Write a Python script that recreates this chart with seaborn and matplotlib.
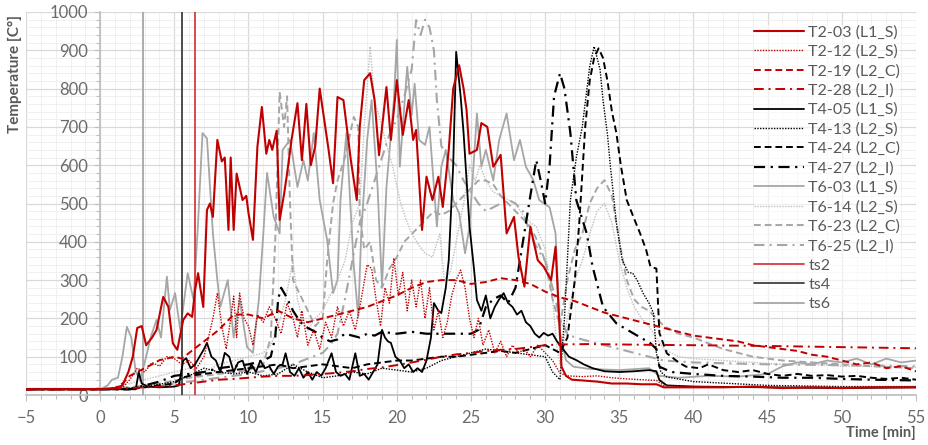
import matplotlib
matplotlib.use("Agg")
import matplotlib.pyplot as plt
from matplotlib.ticker import MultipleLocator
import seaborn as sns

# ---------------- data (time [min], temperature [C]) ----------------
T2_03 = [(-5,15),(0,15),(1.0,18),(1.5,25),(1.9,60),(2.2,100),(2.5,175),(2.8,180),(3.1,130),(3.5,150),(3.8,170),
         (4.25,256),(4.6,230),(4.9,135),(5.2,118),(5.6,196),(5.9,213),(6.2,204),(6.4,274),(6.6,318),(6.95,230),
         (7.2,483),(7.4,500),(7.6,465),(7.9,666),(8.2,610),(8.4,620),(8.65,431),(8.8,620),(9.0,431),(9.2,578),
         (9.6,509),(9.85,520),(10.0,475),(10.3,405),(10.6,648),(10.9,752),(11.2,630),(11.4,666),(11.6,640),
         (11.9,690),(12.1,457),(12.4,525),(12.6,578),(12.9,666),(13.3,762),(13.6,613),(13.9,760),(14.2,600),
         (14.5,650),(14.8,800),(15.1,720),(15.4,640),(15.7,553),(16.0,778),(16.4,770),(16.9,613),(17.3,509),
         (17.5,700),(17.8,822),(18.2,840),(18.5,770),(18.8,626),(19.3,804),(19.6,666),(20.0,822),(20.4,679),
         (20.8,770),(21.1,666),(21.3,692),(21.7,431),(22.0,570),(22.4,509),(22.8,570),(23.1,491),(23.5,640),
         (23.8,800),(24.2,861),(24.5,800),(24.7,744),(24.9,630),(25.4,640),(25.7,710),(26.1,700),(26.5,596),
         (27.0,627),(27.4,422),(27.9,465),(28.2,361),(28.6,283),(29.0,439),(29.5,352),(29.9,335),(30.4,300),
         (30.7,387),(31.1,74),(31.4,50),(31.8,40),(32.5,38),(33.5,35),(34.5,30),(35.5,30),(36.5,28),(37.5,28),
         (38.0,20),(40,20),(42,20),(44,22),(46,18),(48,20),(50,18),(52,20),(55,20)]

T2_12 = [(-5,15),(0,15),(1.5,20),(2.0,40),(2.5,70),(3.0,60),(3.5,85),(4.0,75),(4.5,100),(5.0,95),(5.5,80),
         (6.0,90),(6.5,70),(7.0,100),(7.3,150),(7.6,200),(7.9,266),(8.2,180),(8.5,120),(8.8,200),(9.0,258),
         (9.2,150),(9.4,266),(9.7,200),(10.0,180),(10.3,130),(10.6,210),(11.0,190),(11.4,230),(11.8,200),
         (12.2,160),(12.6,240),(13.0,200),(13.3,150),(13.6,220),(14.0,130),(14.4,170),(14.8,120),(15.2,190),
         (15.6,150),(16.0,230),(16.4,180),(16.8,220),(17.2,170),(17.6,250),(18.0,340),(18.3,330),(18.6,250),
         (18.9,180),(19.2,280),(19.5,240),(19.8,357),(20.1,260),(20.4,320),(20.7,220),(21.0,300),(21.3,230),
         (21.6,300),(21.9,200),(22.2,280),(22.5,170),(22.8,220),(23.1,150),(23.4,190),(23.7,260),(24.0,300),
         (24.3,326),(24.6,280),(24.9,200),(25.2,150),(25.5,200),(25.8,130),(26.2,170),(26.6,110),(27.0,140),
         (27.4,100),(27.8,130),(28.2,110),(28.6,120),(29.0,100),(29.5,130),(30.0,110),(30.5,90),(30.8,70),
         (31.0,57),(31.5,50),(32.5,48),(33.5,50),(34.5,45),(35.5,42),(36.5,40),(37.5,38),(38.0,25),(40,22),
         (45,20),(50,20),(55,22)]

T2_19 = [(-5,15),(0,15),(1,18),(1.5,30),(2,50),(2.5,60),(3,70),(3.5,80),(4,91),(4.5,95),(5,100),(5.5,95),
         (6,110),(7,140),(8,170),(9,210),(10,210),(11,200),(12,220),(13,200),(14,190),(15,200),(16,210),
         (17,220),(18,230),(19,245),(20,260),(21,280),(22,295),(23,300),(24,300),(25,290),(26,295),(27,305),
         (28,300),(29,290),(30,270),(31,255),(32,245),(33,230),(34,215),(35,205),(36,195),(37,185),(38,175),
         (39,165),(40,155),(41,150),(42,145),(43,140),(44,130),(45,125),(46,120),(47,115),(48,105),(49,100),
         (50,90),(51,80),(52,85),(53,70),(54,75),(55,62)]

T2_28 = [(-5,15),(0,15),(2,18),(4,22),(5,25),(6,30),(7,35),(8,40),(9,42),(10,45),(11,48),(12,50),(13,50),
         (14,52),(15,55),(16,58),(17,62),(18,68),(19,72),(20,78),(21,85),(22,92),(23,100),(24,106),(25,110),
         (26,115),(27,118),(28,120),(29,125),(30,130),(31,132),(33,133),(35,132),(37,131),(40,130),(45,128),
         (50,125),(55,122)]

T4_05 = [(-5,15),(0,15),(2.4,15),(2.6,60),(2.8,30),(3.2,22),(4,20),(5,22),(5.3,25),(5.6,90),(5.8,96),
         (6.1,70),(6.4,80),(6.7,100),(7.0,120),(7.2,136),(7.5,100),(7.8,90),(8.1,60),(8.4,110),(8.7,100),
         (9.0,60),(9.3,85),(9.6,90),(9.9,55),(10.2,80),(10.5,60),(10.8,90),(11.1,70),(11.4,75),(11.7,55),
         (12.0,75),(12.3,80),(12.5,109),(12.8,60),(13.1,50),(13.4,70),(13.7,45),(14.0,60),(14.3,40),(14.6,60),
         (14.9,50),(15.2,70),(15.6,109),(15.9,60),(16.2,50),(16.5,55),(16.8,40),(17.2,109),(17.5,50),(17.8,55),
         (18.1,40),(18.4,60),(18.7,80),(19.0,170),(19.2,150),(19.4,140),(19.6,136),(19.9,100),(20.2,90),
         (20.5,70),(20.8,80),(21.1,60),(21.4,70),(21.7,60),(22.0,90),(22.3,150),(22.5,240),(22.8,220),
         (23.0,214),(23.3,280),(23.5,352),(23.8,600),(24.0,896),(24.3,780),(24.5,684),(24.9,440),(25.2,330),
         (25.4,248),(25.7,220),(26.0,260),(26.3,200),(26.6,230),(26.9,250),(27.2,266),(27.5,240),(27.8,230),
         (28.1,210),(28.4,220),(28.7,190),(29.0,180),(29.3,160),(29.6,150),(29.9,162),(30.2,155),(30.5,160),
         (30.8,140),(31.2,120),(31.6,100),(32.1,91),(32.6,80),(33.2,70),(34,62),(35,60),(36,62),(37,65),
         (37.5,62),(37.7,39),(38.2,25),(40,22),(45,20),(50,18),(55,20)]

T4_13 = [(-5,15),(0,15),(2,18),(3,22),(4,28),(5,35),(6,50),(7,70),(8,60),(9,55),(10,60),(11,50),(12,55),
         (13,80),(14,60),(15,45),(16,50),(17,60),(18,55),(19,70),(20,65),(21,60),(22,70),(23,90),(24,100),
         (25,110),(26,120),(27,115),(28,110),(29,105),(30,100),(30.5,60),(31.0,40),(31.3,200),(31.7,509),
         (32.1,620),(32.5,700),(33.0,857),(33.3,910),(33.7,850),(33.9,770),(34.2,680),(34.4,596),(34.8,450),
         (35.2,352),(35.6,320),(35.9,318),(36.2,300),(36.6,266),(37.0,240),(37.3,214),(37.5,109),(37.8,60),
         (38.2,47),(40,35),(45,25),(50,22),(55,22)]

T4_24 = [(-5,15),(0,15),(2,15),(3,20),(4,25),(5,30),(5.5,45),(6,50),(7,55),(8,60),(9,65),(10,70),(11,75),
         (12,80),(13,70),(14,75),(15,80),(16,75),(17,70),(18,80),(19,85),(20,90),(21,90),(22,95),(23,100),
         (24,100),(25,105),(26,110),(27,115),(28,110),(29,120),(30,130),(31,110),(31.5,150),(32.0,300),
         (32.3,450),(32.7,700),(33.0,820),(33.3,880),(33.6,905),(33.9,880),(34.2,820),(34.5,740),(34.8,684),
         (35.1,600),(35.5,509),(36.0,460),(36.4,422),(36.8,380),(37.1,335),(37.5,330),(37.7,162),(38.2,109),
         (39.0,85),(39.5,74),(40.4,70),(41,80),(42,65),(43,60),(44,65),(45,55),(46,50),(47,55),(48,50),
         (49,52),(50,48),(51,50),(52,45),(53,42),(54,45),(55,40)]

T4_27 = [(-5,15),(0,15),(2,15),(3,25),(4,35),(5,50),(6,55),(7,60),(8,70),(9,75),(10,80),(11,90),(11.5,100),
         (11.8,150),(12.0,250),(12.2,280),(12.5,260),(13.0,220),(13.5,190),(14.0,175),(14.5,165),(15.0,150),
         (15.5,140),(16.0,145),(16.5,160),(17.0,155),(17.5,150),(18.0,160),(18.5,155),(19.0,165),(20,160),
         (21,165),(22,160),(23,160),(24,160),(25,160),(25.5,170),(26.0,230),(26.5,250),(27.0,260),(27.5,240),
         (28.0,280),(28.5,400),(29.0,520),(29.4,613),(29.7,560),(30.0,500),(30.3,600),(30.6,780),(31.0,840),
         (31.3,800),(31.7,684),(32.1,509),(32.8,422),(33.2,335),(33.9,230),(34.8,187),(35.9,162),(37.1,135),
         (37.5,120),(37.7,74),(38.5,60),(40,55),(42,50),(44,48),(46,45),(48,45),(50,42),(52,40),(55,38)]

T6_03 = [(-5,15),(0,15),(0.5,25),(0.8,40),(1.2,45),(1.5,100),(1.8,178),(2.1,150),(2.4,60),(2.7,40),(3.1,100),
         (3.4,150),(3.8,196),(4.1,150),(4.5,309),(4.7,222),(5.05,266),(5.4,170),(5.9,318),(6.3,248),(6.6,450),
         (6.9,684),(7.2,670),(7.6,422),(7.9,300),(8.1,230),(8.6,300),(9.0,150),(9.4,250),(9.9,125),(10.3,110),
         (10.7,250),(11.0,422),(11.25,580),(11.7,465),(12.1,422),(12.3,640),(12.8,666),(13.3,543),(13.7,613),
         (14.0,560),(14.4,684),(14.8,509),(15.3,405),(15.7,266),(16.0,300),(16.2,509),(16.6,684),(17.1,335),
         (17.4,204),(17.6,422),(18.0,666),(18.3,770),(18.7,543),(19.0,283),(19.3,543),(19.8,770),(20.0,927),
         (20.2,596),(20.7,857),(21.0,731),(21.2,813),(21.5,666),(21.9,653),(22.2,700),(22.7,440),(23.0,596),
         (23.3,640),(23.8,509),(24.2,475),(24.6,370),(24.9,440),(25.4,735),(25.7,596),(26.0,640),(26.5,560),
         (26.9,666),(27.4,735),(27.9,613),(28.3,666),(28.7,596),(29.2,561),(29.6,509),(30.3,490),(30.7,422),
         (30.8,335),(31.0,162),(31.4,91),(31.9,74),(33,68),(35,65),(37,70),(37.7,50),(39,45),(41,50),(43,48),
         (45,55),(46,75),(47,85),(48,80),(49,90),(50,85),(51,95),(52,80),(53,95),(54,85),(55,90)]

T6_14 = [(-5,15),(0,15),(1,20),(2,30),(3,40),(4,50),(5,60),(6,70),(7,60),(8,80),(9,90),(10,100),(11,110),
         (11.5,130),(12.0,180),(12.5,250),(13.0,352),(13.3,250),(13.6,200),(14.0,170),(14.5,200),(15,220),
         (15.5,260),(16.0,300),(16.5,350),(17.0,450),(17.5,500),(17.8,700),(18.2,910),(18.5,770),(19.0,700),
         (19.4,640),(19.7,600),(20.2,509),(20.6,460),(21.0,422),(21.5,390),(21.9,370),(22.4,360),(22.9,422),
         (23.2,300),(23.6,320),(24.0,400),(24.5,500),(24.9,600),(25.3,560),(25.6,600),(26.0,560),(26.5,530),
         (27.0,520),(27.5,510),(28.0,500),(28.5,470),(29.0,450),(29.4,440),(30.0,380),(30.5,250),(30.8,120),
         (31.0,80),(31.5,200),(32.0,300),(32.5,350),(33.0,420),(33.5,480),(34.0,500),(34.5,450),(35.0,350),
         (35.5,280),(36.0,230),(36.5,200),(37.0,180),(37.5,150),(38.0,120),(39,100),(40,95),(42,90),(44,85),
         (46,80),(48,80),(50,75),(52,75),(55,72)]

T6_23 = [(-5,15),(0,15),(2,20),(4,30),(6,45),(8,55),(10,65),(11,80),(11.5,150),(11.8,400),(12.1,791),
         (12.4,700),(12.6,780),(12.8,500),(13.0,300),(13.5,260),(14.0,220),(14.5,180),(15.0,200),(15.3,350),
         (15.7,500),(16.0,560),(16.5,620),(17.1,726),(17.4,700),(17.5,470),(17.8,380),(18.2,400),(18.6,300),
         (19.0,280),(19.5,330),(20.0,360),(20.5,400),(21.0,420),(21.5,440),(22.0,460),(22.5,480),(23.0,470),
         (23.5,480),(24.0,500),(24.5,520),(25.0,540),(25.5,560),(26.0,560),(26.5,550),(27.0,520),(27.5,500),
         (28.0,480),(28.5,460),(29.0,440),(29.5,400),(30.0,350),(30.5,250),(31.0,180),(31.5,300),(32.0,380),
         (32.5,420),(33.0,500),(33.5,540),(34.0,561),(34.5,520),(35.0,400),(35.5,300),(36.0,250),(36.5,230),
         (37.0,220),(37.5,200),(38.0,180),(39,160),(40,150),(42,120),(44,100),(46,90),(48,85),(50,80),
         (52,75),(55,70)]

T6_25 = [(-5,15),(0,15),(2,20),(4,25),(6,35),(8,45),(10,55),(12,70),(13,80),(14,95),(15,110),(15.5,130),
         (16,160),(16.5,250),(17,350),(17.5,450),(18,500),(18.5,560),(19,620),(19.5,680),(20,720),(20.5,780),
         (21,850),(21.3,979),(21.6,940),(21.9,980),(22.2,960),(22.5,900),(22.7,770),(23.0,650),(23.5,620),
         (24,600),(24.5,560),(25,530),(25.5,500),(26,480),(26.5,490),(27,500),(27.5,510),(28,500),(28.5,480),
         (29,420),(29.5,380),(30,350),(30.5,280),(31,200),(31.5,160),(32,150),(33,140),(34,130),(35,120),
         (36,110),(37,100),(38,90),(40,85),(45,80),(50,78),(55,75)]

# times of the vertical markers
ts_names = ["ts2", "ts4", "ts6"]
ts_times = [6.4, 5.5, 2.9]

series_names = ["T2-03 (L1_S)", "T2-12 (L2_S)", "T2-19 (L2_C)", "T2-28 (L2_I)",
                "T4-05 (L1_S)", "T4-13 (L2_S)", "T4-24 (L2_C)", "T4-27 (L2_I)",
                "T6-03 (L1_S)", "T6-14 (L2_S)", "T6-23 (L2_C)", "T6-25 (L2_I)"]
series_data = [T2_03, T2_12, T2_19, T2_28, T4_05, T4_13, T4_24, T4_27, T6_03, T6_14, T6_23, T6_25]

# ---------------- style ----------------
RED = "#C00000"
BLACK = "#000000"
GRAY = "#A6A6A6"
LGRAY = "#BFBFBF"
SOLID = "-"
DOT = (0, (1, 1))
DASH = (0, (3.5, 2))
DASHDOT = (0, (5, 2.5, 1, 2.5))
styles = [
    (RED, SOLID, 1.5, 9), (RED, DOT, 1.0, 8), (RED, DASH, 1.4, 8), (RED, DASHDOT, 1.4, 8),
    (BLACK, SOLID, 1.3, 7), (BLACK, DOT, 1.0, 7), (BLACK, DASH, 1.4, 7), (BLACK, DASHDOT, 1.6, 7),
    (GRAY, SOLID, 1.3, 5), (LGRAY, DOT, 1.0, 5), (GRAY, DASH, 1.4, 5), (GRAY, DASHDOT, 1.5, 5),
]
ts_colors = ["#D63C42", "#404040", "#A6A6A6"]

sns.set_theme(style="white")
plt.rcParams["font.family"] = ["Lato", "DejaVu Sans"]

fig = plt.figure(figsize=(9.29, 4.45), dpi=100)
ax = fig.add_axes([26 / 929, 50 / 445, 890 / 929, 383 / 445])

handles = []
for name, data, (c, ls, lw, z) in zip(series_names, series_data, styles):
    t = [p[0] for p in data]
    v = [p[1] for p in data]
    sns.lineplot(x=t, y=v, ax=ax, color=c, linewidth=lw, label=name, estimator=None, sort=False, zorder=z)
    line = ax.lines[-1]
    line.set_linestyle(ls)
    handles.append(line)

for name, tt, c in zip(ts_names, ts_times, ts_colors):
    h = ax.axvline(tt, color=c, lw=1.3, zorder=6, label=name)
    handles.append(h)

ax.set_xlim(-5, 55)
ax.set_ylim(0, 1000)
ax.xaxis.set_major_locator(MultipleLocator(5))
ax.xaxis.set_minor_locator(MultipleLocator(1))
ax.yaxis.set_major_locator(MultipleLocator(100))
ax.yaxis.set_minor_locator(MultipleLocator(20))
ax.grid(which="major", color="#D9D9D9", lw=0.9, zorder=0)
ax.grid(which="minor", color="#EEEEEE", lw=0.6, zorder=0)
ax.set_axisbelow(True)

for s in ["top", "right"]:
    ax.spines[s].set_visible(False)
ax.spines["left"].set_position(("data", 0))
ax.spines["left"].set_color("#BFBFBF")
ax.spines["bottom"].set_color("#BFBFBF")
ax.tick_params(axis="both", which="both", colors="#BFBFBF", labelcolor="#6B6B6B", labelsize=12)
ax.tick_params(axis="y", which="major", length=4, width=0.8, pad=5, left=True)
ax.tick_params(axis="y", which="minor", length=3, width=0.8, left=True)
ax.tick_params(axis="x", which="major", length=4, width=0.8, pad=7, bottom=True)
ax.tick_params(axis="x", which="minor", length=3, width=0.8, bottom=True)
ax.set_xlabel("")
ax.set_ylabel("")

leg = ax.legend(handles=handles, labels=series_names + ts_names,
                loc="upper left", bbox_to_anchor=(754 / 929, 1 - 25 / 445),
                bbox_transform=fig.transFigure, frameon=True, facecolor="white",
                framealpha=0.6, edgecolor="none", fontsize=11.5, handlelength=3.1,
                handletextpad=0.3, labelspacing=0.32, borderpad=0.0, borderaxespad=0)
for txt in leg.get_texts():
    txt.set_color("#595959")

fig.text(15 / 929, 1 - 15 / 445, "Temperature [C°]", rotation=90, ha="center", va="top",
         fontsize=11, fontweight="bold", color="#595959")
fig.text(916 / 929, 1 - 433 / 445, "Time [min]", ha="right", va="center",
         fontsize=10.5, fontweight="bold", color="#595959")

fig.savefig("out.png", dpi=100)
